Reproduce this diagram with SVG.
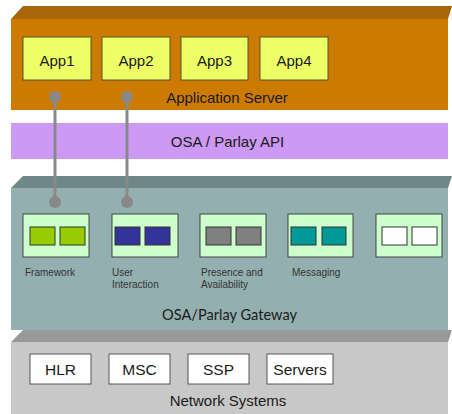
<svg xmlns="http://www.w3.org/2000/svg" width="452" height="414" viewBox="0 0 452 414">
  <style>
    .lbl { font-family: "Liberation Sans", Arial, sans-serif; fill: #1a1a1a; }
    .big { font-size: 15px; text-anchor: middle; }
    .box { font-size: 15.5px; text-anchor: middle; }
    .gw { font-family: Lato, "Open Sans", sans-serif; font-size: 16px; text-anchor: middle; fill: #1a1a1a; }
    .small { font-size: 10px; fill: #333; }
    .app { fill: #eeff66; stroke: #555533; stroke-width: 1; }
    .mod { fill: #ccffcc; stroke: #444; stroke-width: 1; }
    .cell { stroke: #333; stroke-width: 1; }
    .net { fill: #ffffff; stroke: #555; stroke-width: 1; }
    .link { stroke: #888; stroke-width: 3; fill: none; }
    .dot { fill: #888; }
  </style>
  <rect width="452" height="414" fill="#ffffff"/>

  <!-- Application Server layer -->
  <g id="application-server">
    <polygon points="23,6 452,6 448,19 11,19" fill="#a8650a"/>
    <rect x="11" y="19" width="437" height="91" fill="#cc7a00"/>
    <text class="lbl big" x="227" y="103">Application Server</text>
  </g>
  <g id="app1"><rect class="app" x="23" y="37" width="68" height="43"/><text class="lbl big" x="57" y="65.5">App1</text></g>
  <g id="app2"><rect class="app" x="102" y="37" width="68" height="43"/><text class="lbl big" x="136" y="65.5">App2</text></g>
  <g id="app3"><rect class="app" x="181" y="37" width="67" height="43"/><text class="lbl big" x="214.5" y="65.5">App3</text></g>
  <g id="app4"><rect class="app" x="260" y="37" width="68" height="43"/><text class="lbl big" x="294" y="65.5">App4</text></g>

  <!-- OSA / Parlay API band -->
  <g id="api">
    <rect x="11" y="123" width="437" height="36" fill="#cc99f5"/>
    <text class="lbl big" x="227.5" y="146.5">OSA / Parlay API</text>
  </g>

  <!-- Gateway layer -->
  <g id="gateway">
    <polygon points="23,176 452,176 448,188 11,188" fill="#6f8787"/>
    <rect x="11" y="188" width="437" height="142" fill="#94afaf"/>
    <text class="gw" x="229.5" y="320" textLength="135" lengthAdjust="spacingAndGlyphs">OSA/Parlay Gateway</text>
  </g>
  <g id="framework">
    <rect class="mod" x="23" y="214" width="66" height="43"/>
    <rect class="cell" x="30" y="227" width="25" height="18" fill="#99cc00"/>
    <rect class="cell" x="60" y="227" width="25" height="18" fill="#99cc00"/>
    <text class="lbl small" x="25" y="276">Framework</text>
  </g>
  <g id="user-interaction">
    <rect class="mod" x="112" y="214" width="66" height="43"/>
    <rect class="cell" x="115" y="227" width="25" height="18" fill="#333399"/>
    <rect class="cell" x="145" y="227" width="25" height="18" fill="#333399"/>
    <text class="lbl small" x="112" y="276">User</text>
    <text class="lbl small" x="112" y="288">Interaction</text>
  </g>
  <g id="presence">
    <rect class="mod" x="200" y="214" width="66" height="43"/>
    <rect class="cell" x="206" y="227" width="25" height="18" fill="#808080"/>
    <rect class="cell" x="236" y="227" width="25" height="18" fill="#808080"/>
    <text class="lbl small" x="201" y="276">Presence and</text>
    <text class="lbl small" x="201" y="288">Availability</text>
  </g>
  <g id="messaging">
    <rect class="mod" x="288" y="214" width="65" height="43"/>
    <rect class="cell" x="291" y="227" width="25" height="18" fill="#009999"/>
    <rect class="cell" x="322" y="227" width="24" height="18" fill="#009999"/>
    <text class="lbl small" x="292" y="276">Messaging</text>
  </g>
  <g id="extra-module">
    <rect class="mod" x="376" y="214" width="66" height="43"/>
    <rect class="cell" x="382" y="227" width="25" height="18" fill="#ffffff"/>
    <rect class="cell" x="412" y="227" width="25" height="18" fill="#ffffff"/>
  </g>

  <!-- Network Systems layer -->
  <g id="network-systems">
    <polygon points="23,330 452,330 448,342 11,342" fill="#999999"/>
    <rect x="11" y="342" width="437" height="72" fill="#c8c8c8"/>
    <text class="lbl big" x="228" y="406">Network Systems</text>
  </g>
  <g id="hlr"><rect class="net" x="30" y="354" width="61" height="30"/><text class="lbl box" x="60.5" y="375">HLR</text></g>
  <g id="msc"><rect class="net" x="109" y="354" width="61" height="30"/><text class="lbl box" x="139.5" y="375">MSC</text></g>
  <g id="ssp"><rect class="net" x="188" y="354" width="61" height="30"/><text class="lbl box" x="218.5" y="375">SSP</text></g>
  <g id="servers"><rect class="net" x="267" y="354" width="66" height="30"/><text class="lbl box" x="300" y="375">Servers</text></g>

  <!-- Connectors: applications to gateway services -->
  <g id="connectors">
    <line class="link" x1="55" y1="97" x2="55" y2="202"/>
    <circle class="dot" cx="55" cy="97" r="6"/>
    <circle class="dot" cx="55" cy="202" r="6"/>
    <line class="link" x1="127" y1="97" x2="127" y2="202"/>
    <circle class="dot" cx="127" cy="97" r="6"/>
    <circle class="dot" cx="127" cy="202" r="6"/>
  </g>
</svg>
